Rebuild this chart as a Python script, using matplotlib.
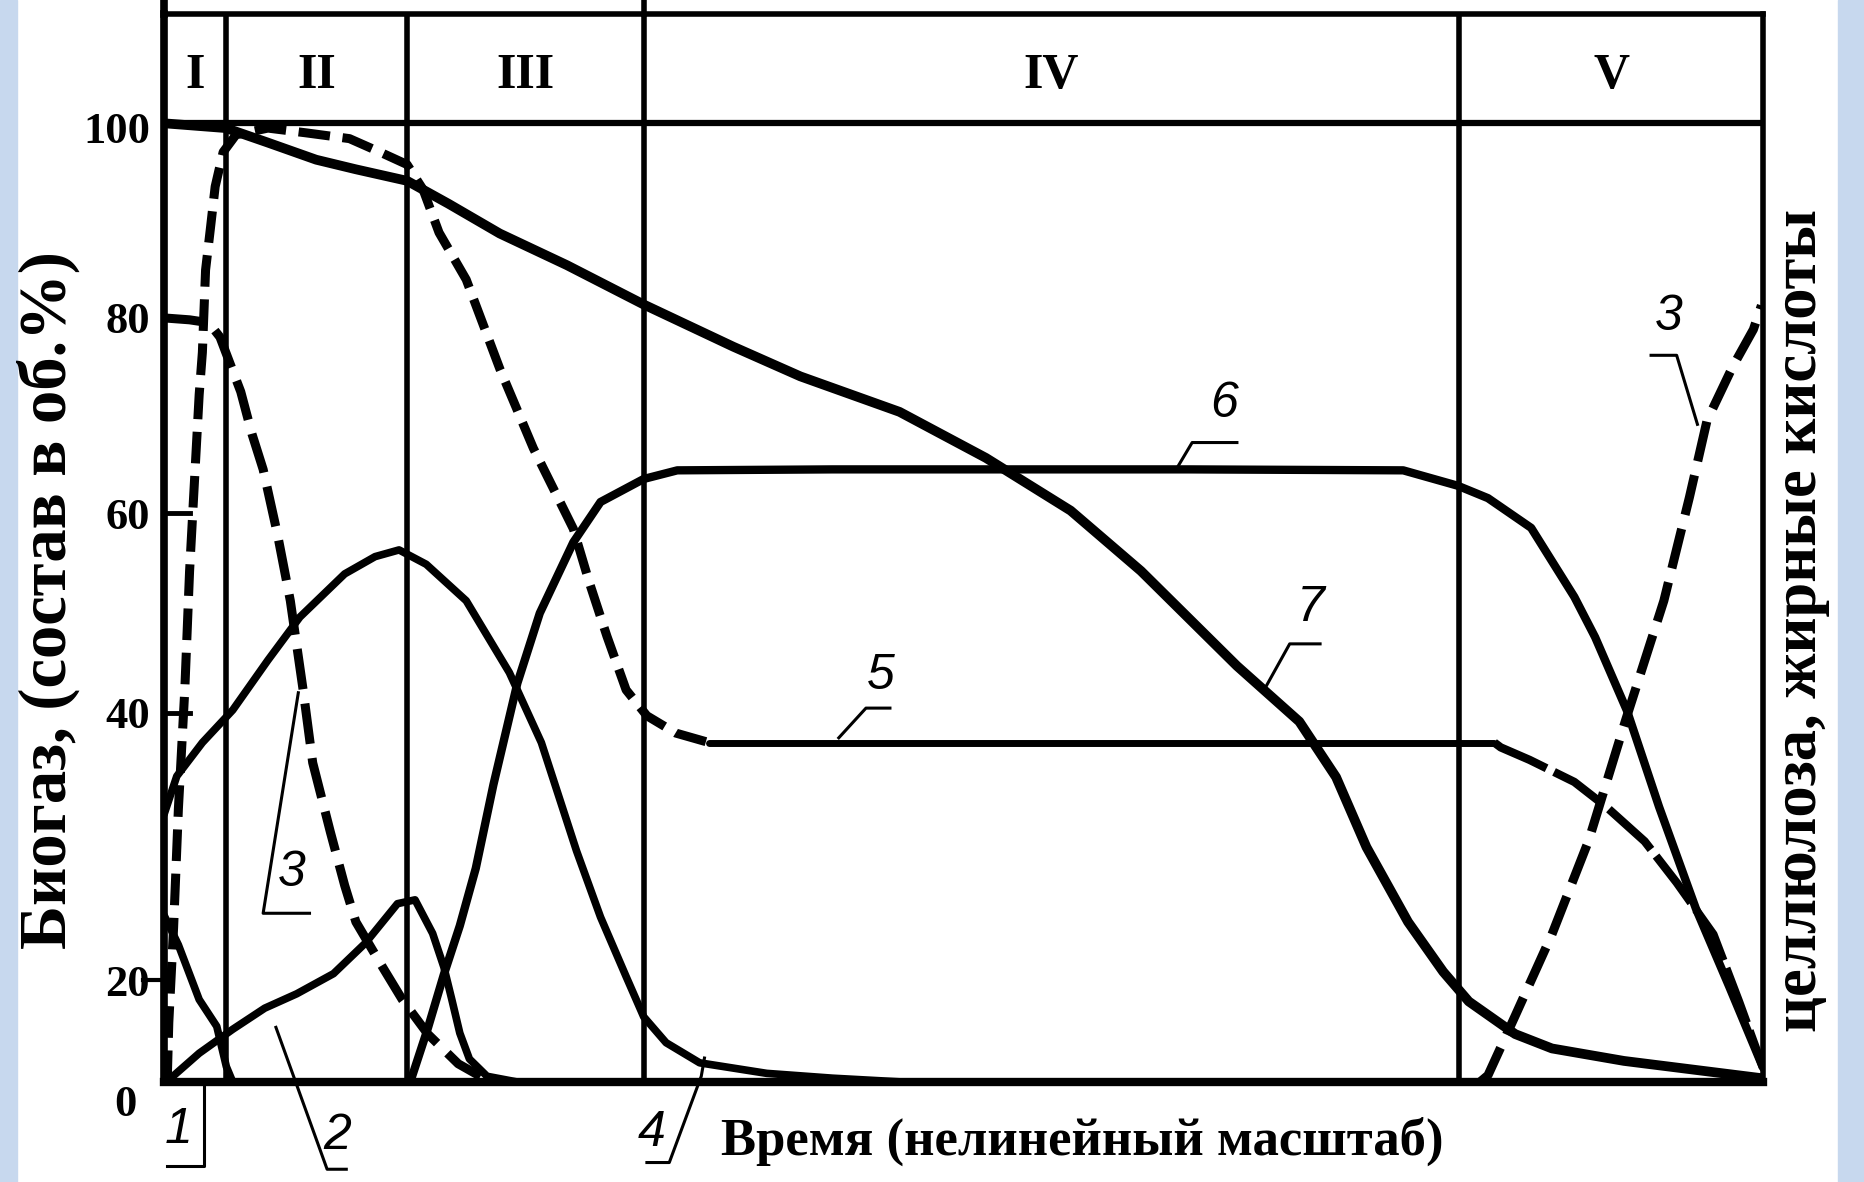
import numpy as np
import matplotlib.pyplot as plt
from matplotlib.patches import Rectangle

# time axis is "nonlinear": 0..100 across the plot, phases I..V
phase_edges = [0, 3.9, 15.2, 30.0, 81.0, 100]
phase_names = ['I', 'II', 'III', 'IV', 'V']

# y tick labels and where they are drawn on the sheet ("0" sits under the axis)
ytick_labels = ['20', '40', '60', '80', '100']
ytick_pos = [10.6, 38.5, 59.3, 79.7, 99.6]
zero_pos = -2.4

# curve 1
c1_x = [0, 0.9, 2.2, 3.3, 3.9, 4.3]
c1_y = [17.4, 14.3, 8.6, 5.8, 1.6, 0]

# curve 2
c2_x = [0.15, 2.2, 4.3, 6.3, 8.3, 10.6, 12.6, 14.6, 15.7, 16.8, 17.5, 18.0, 18.5, 19.1, 20.2, 22.1]
c2_y = [0, 3.0, 5.5, 7.7, 9.2, 11.3, 14.5, 18.6, 19.0, 15.5, 12.0, 8.6, 5.1, 2.4, 0.6, 0]

# curve 3 (phases I-III)
c3_x = [0, 1.6, 2.8, 3.5, 4.8, 5.5, 6.2, 7.1, 7.9, 8.7, 9.3, 10.4, 11.3, 12.0, 13.7, 14.9, 16.5, 18.4, 20.2]
c3_y = [79.7, 79.5, 79.2, 77.7, 72.0, 67.6, 63.9, 57.1, 50.2, 40.9, 33.3, 26.1, 20.5, 16.7, 11.9, 8.6, 5.0, 1.9, 0.2]

# curve 3 (phase V)
c3v_x = [82.3, 82.8, 84.5, 86.8, 89.1, 91.4, 93.8, 95.4, 96.5, 98.1, 99.4, 99.9]
c3v_y = [0, 0.7, 6.9, 15.4, 25.2, 37.7, 50.2, 61.0, 69.0, 74.6, 78.5, 81.0]

# curve 4
c4_x = [0, 0.8, 2.4, 4.3, 6.5, 8.5, 11.3, 13.2, 14.7, 16.4, 18.9, 21.6, 23.6, 25.8, 27.3, 28.9, 30.0, 31.4, 33.5, 37.7, 41.8, 46.2]
c4_y = [27.9, 31.9, 35.4, 38.8, 44.0, 48.5, 53.0, 54.8, 55.5, 54.0, 50.2, 42.7, 35.4, 24.1, 17.2, 11.0, 6.8, 4.1, 2.0, 0.9, 0.4, 0]

# curve 5: dashed rise and fall, flat solid part in phase IV
c5_rise_x = [0.2, 0.3, 0.6, 0.9, 1.3, 1.6, 1.9, 2.2, 2.4, 2.6, 2.9, 3.2, 3.7, 4.5, 6.5, 8.9, 11.6, 13.5, 15.2,
             16.2, 17.2, 18.9, 21.0, 23.1, 24.5, 25.6, 26.6, 27.7, 28.9, 30.2, 32.0, 34.1]
c5_rise_y = [0, 6.2, 16.1, 28.5, 40.9, 53.3, 62.5, 71.7, 76.1, 84.7, 89.0, 93.4, 97.0, 98.8, 99.5, 99.0, 98.4, 97.0, 95.7,
             93.1, 88.6, 83.7, 74.4, 66.1, 61.4, 57.7, 52.1, 46.5, 40.9, 38.2, 36.4, 35.4]
c5_flat_x = [34.1, 83.2]
c5_flat_y = [35.4, 35.4]
c5_fall_x = [83.2, 83.6, 85.4, 88.2, 90.2, 92.6, 94.6, 96.9, 98.5, 100]
c5_fall_y = [35.4, 34.9, 33.6, 31.3, 28.7, 25.1, 20.8, 15.4, 8.4, 1.5]

# curve 6
c6_x = [15.4, 16.5, 17.5, 18.5, 19.5, 20.6, 22.1, 23.5, 25.6, 27.3, 30.0, 32.1, 41.8, 64.1, 77.5, 80.9,
        82.8, 85.5, 88.2, 89.5, 91.5, 93.5, 95.8, 97.9, 100]
c6_y = [0, 5.6, 11.2, 16.3, 22.3, 31.0, 41.6, 48.9, 56.3, 60.5, 62.9, 63.8, 63.9, 63.9, 63.8, 62.2,
        60.9, 57.8, 50.6, 46.4, 38.7, 28.7, 18.1, 9.9, 1.5]

# curve 7
c7_x = [0, 3.87, 6.47, 9.52, 12.0, 15.2, 17.8, 21.0, 25.2, 30.0, 35.6, 39.8, 46.0, 51.4, 56.7, 61.1, 67.1,
        71.0, 73.3, 75.2, 77.8, 80.0, 81.6, 84.5, 86.8, 91.3, 99.9]
c7_y = [100, 99.5, 98.0, 96.2, 95.2, 94.0, 91.6, 88.5, 85.2, 81.1, 76.7, 73.6, 69.9, 65.1, 59.6, 53.3, 43.4,
        37.6, 31.8, 24.5, 16.7, 11.5, 8.4, 5.0, 3.5, 2.2, 0.4]

# curve numbers and their leader lines
num_text = ['1', '2', '3', '4', '5', '6', '7', '3']
num_x = [0.9, 10.8, 8.0, 30.5, 44.8, 66.3, 71.7, 94.1]
num_y = [-5.0, -5.6, 21.8, -5.3, 42.3, 70.7, 49.4, 79.8]
leaders = [
    ([0.2, 2.5, 2.5], [-8.8, -8.8, 0]),
    ([7.0, 10.2, 11.4], [5.7, -9.1, -9.1]),
    ([9.1, 6.2, 8.4], [17.6, 17.6, 40.6]),
    ([30.2, 31.6, 33.6, 33.8], [-8.4, -8.4, 0.6, 2.5]),
    ([42.2, 43.9, 45.4], [35.9, 39.0, 39.0]),
    ([63.3, 64.3, 67.1], [63.9, 66.7, 66.7]),
    ([68.9, 70.4, 72.3], [41.2, 45.7, 45.7]),
    ([95.9, 94.6, 93.0], [68.6, 75.8, 75.8]),
]

serif = 'Liberation Serif'
W, H = 1865, 1182
ytop = 111.4

fig = plt.figure(figsize=(W / 100, H / 100), dpi=100)
fig.patch.set_facecolor('white')
# pale blue slide edges
fig.add_artist(Rectangle((0, 0), 17 / W, 1, transform=fig.transFigure, color='#c7d8ee', zorder=0))
fig.add_artist(Rectangle((1838 / W, 0), 1 - 1838 / W, 1, transform=fig.transFigure, color='#c7d8ee', zorder=0))

ax = fig.add_axes([164 / W, 1 - 1082 / H, (1763 - 164) / W, (1082 - 14) / H])
for side, lw in [('left', 5.5), ('right', 4), ('bottom', 6), ('top', 4)]:
    ax.spines[side].set_linewidth(lw)
ax.set_xticks([])
ax.set_yticks(ytick_pos, ytick_labels)
ax.set_xlim(0, 100)
ax.set_ylim(0, ytop)
ax.tick_params(axis='y', length=0, pad=10)
for lab in ax.get_yticklabels():
    lab.set_fontfamily(serif)
    lab.set_fontweight('bold')
    lab.set_fontsize(32)

yt = ax.get_yaxis_transform()
ax.text(-0.017, zero_pos, '0', transform=yt, ha='right', va='center', fontsize=32,
        fontfamily=serif, fontweight='bold')

# tick marks: 20 outside, 40/60 inside
ax.plot([-0.013, 0], [10.6, 10.6], 'k', lw=3, transform=yt, clip_on=False)
for v in [38.5, 59.3]:
    ax.plot([0, 0.016], [v, v], 'k', lw=3.5, transform=yt)

# phase grid and header band
for xe in phase_edges[1:-1]:
    ax.plot([xe, xe], [0, ytop], 'k', lw=4, solid_capstyle='butt')
ax.plot([0, 100], [100, 100], 'k', lw=4.5)
ax.plot([0, 0], [ytop, ytop + 2], 'k', lw=5.5, clip_on=False)
ax.plot([phase_edges[3], phase_edges[3]], [ytop, ytop + 2], 'k', lw=4, clip_on=False)
for i, name in enumerate(phase_names):
    ax.text((phase_edges[i] + phase_edges[i + 1]) / 2, 104.9, name, ha='center', va='center',
            fontsize=36, fontfamily=serif, fontweight='bold')

# curves
kw = dict(color='k', solid_capstyle='round', solid_joinstyle='round')
ax.plot(c1_x, c1_y, lw=5.5, **kw)
ax.plot(c2_x, c2_y, lw=5.5, **kw)
ax.plot(c3_x, c3_y, lw=6.5, dashes=(4.5, 1.6), color='k')
ax.plot(c3v_x, c3v_y, lw=6.5, dashes=(4.5, 1.6), color='k')
ax.plot(c4_x, c4_y, lw=5.5, **kw)
ax.plot(c5_rise_x, c5_rise_y, lw=6.5, dashes=(3.5, 1.4), color='k')
ax.plot(c5_flat_x, c5_flat_y, lw=5, **kw)
ax.plot(c5_fall_x, c5_fall_y, lw=6, dashes=(7, 1.0), color='k')
ax.plot(c6_x, c6_y, lw=6, **kw)
ax.plot(c7_x, c7_y, lw=7, **kw)

# curve numbers
for t, x, y in zip(num_text, num_x, num_y):
    ax.text(x, y, t, ha='center', va='center', fontsize=36, fontfamily='Liberation Sans',
            style='italic', clip_on=False)
for lx, ly in leaders:
    ax.plot(lx, ly, 'k', lw=2.2, clip_on=False)

# axis titles
tkw = dict(ha='center', va='center', fontfamily=serif, fontweight='bold')
fig.text(1082 / W, 1 - 1141 / H, 'Время (нелинейный масштаб)', fontsize=38, **tkw)
fig.text(48 / W, 1 - 600 / H, 'Биогаз, (состав в об.%)', rotation=90, fontsize=48, **tkw)
fig.text(1801 / W, 1 - 621 / H, 'целлюлоза, жирные кислоты', rotation=90, fontsize=45, **tkw)

fig.savefig('out.png', dpi=100)
